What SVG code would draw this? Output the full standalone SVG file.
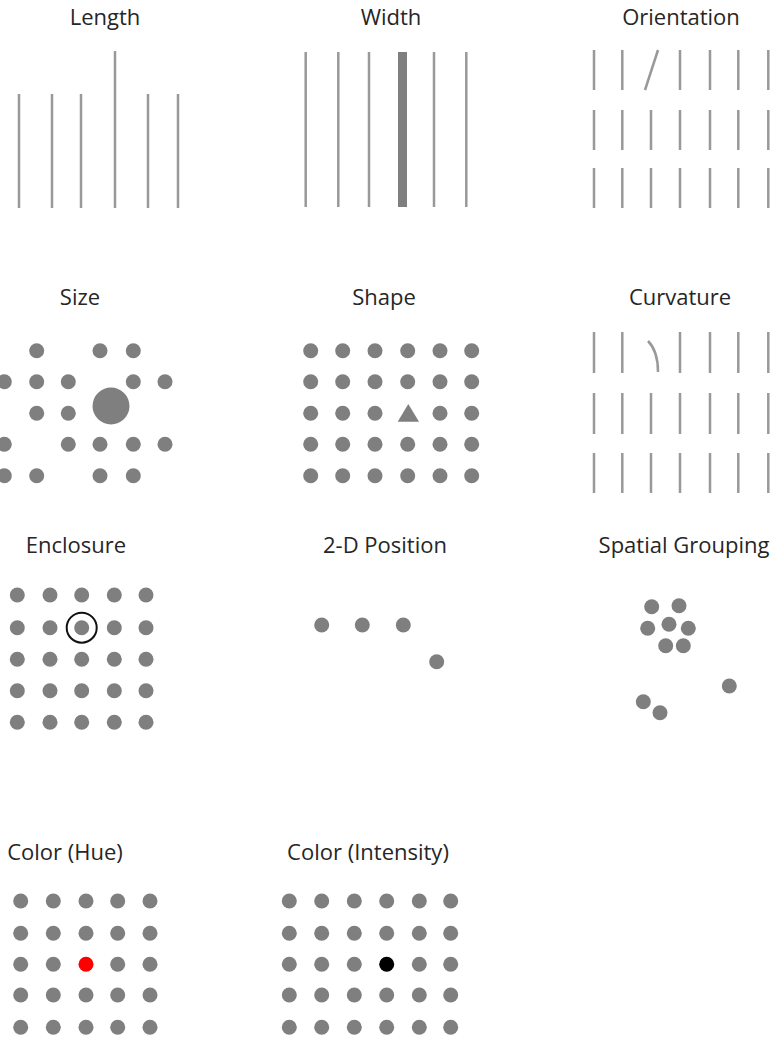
<svg xmlns="http://www.w3.org/2000/svg" width="776" height="1037" viewBox="0 0 776 1037">
<style>
.t{font-family:"Open Sans","Noto Sans",sans-serif;font-size:22px;fill:#262626;text-anchor:middle}
.ln{stroke:#999;stroke-width:2.5;fill:none;stroke-linecap:butt}
.d{fill:#7f7f7f}
</style>
<defs>
<path id="v40" d="M0,0V40" class="ln"/>
<circle id="dot" r="7.5" class="d"/>
</defs>
<rect width="776" height="1037" fill="#fff"/>

<g id="length">
<text class="t" x="105" y="25">Length</text>
<path class="ln" d="M19,94V208M52,94V208M81,94V208M115,51V208M148,94V208M178,94V208"/>
</g>

<g id="width">
<text class="t" x="391" y="25">Width</text>
<path class="ln" d="M305.7,52V207M338.3,52V207M369,52V207M434,52V207M466.3,52V207"/>
<rect x="398" y="52" width="9" height="155" fill="#7f7f7f"/>
</g>

<g id="orientation">
<text class="t" x="681" y="25">Orientation</text>
<path class="ln" d="M594,50V90M622.3,50V90M645,90L658,50M680,50V90M710,50V90M738.3,50V90M768.3,50V90"/>
<path class="ln" d="M594,110V150M622.3,110V150M651,110V150M680,110V150M710,110V150M738.3,110V150M768.3,110V150"/>
<path class="ln" d="M594,168V208M622.3,168V208M651,168V208M680,168V208M710,168V208M738.3,168V208M768.3,168V208"/>
</g>

<g id="size">
<text class="t" x="80" y="305">Size</text>
<g class="d">
<circle cx="36.7" cy="350.7" r="7.5"/><circle cx="100" cy="350.7" r="7.5"/><circle cx="133.3" cy="350.7" r="7.5"/>
<circle cx="4.3" cy="381.7" r="7.5"/><circle cx="36.7" cy="381.7" r="7.5"/><circle cx="68.3" cy="381.7" r="7.5"/><circle cx="133.3" cy="381.7" r="7.5"/><circle cx="165" cy="381.7" r="7.5"/>
<circle cx="36.7" cy="413.3" r="7.5"/><circle cx="68.3" cy="413.3" r="7.5"/><circle cx="111" cy="406" r="18.5"/>
<circle cx="4.3" cy="444.3" r="7.5"/><circle cx="68.3" cy="444.3" r="7.5"/><circle cx="100" cy="444.3" r="7.5"/><circle cx="133.3" cy="444.3" r="7.5"/><circle cx="165" cy="444.3" r="7.5"/>
<circle cx="4.3" cy="475.7" r="7.5"/><circle cx="36.7" cy="475.7" r="7.5"/><circle cx="100" cy="475.7" r="7.5"/><circle cx="133.3" cy="475.7" r="7.5"/>
</g>
</g>

<g id="shape">
<text class="t" x="384" y="305">Shape</text>
<g class="d">
<circle cx="310.7" cy="350.7" r="7.5"/><circle cx="342.7" cy="350.7" r="7.5"/><circle cx="375" cy="350.7" r="7.5"/><circle cx="407.7" cy="350.7" r="7.5"/><circle cx="440" cy="350.7" r="7.5"/><circle cx="471.7" cy="350.7" r="7.5"/>
<circle cx="310.7" cy="381.7" r="7.5"/><circle cx="342.7" cy="381.7" r="7.5"/><circle cx="375" cy="381.7" r="7.5"/><circle cx="407.7" cy="381.7" r="7.5"/><circle cx="440" cy="381.7" r="7.5"/><circle cx="471.7" cy="381.7" r="7.5"/>
<circle cx="310.7" cy="413.3" r="7.5"/><circle cx="342.7" cy="413.3" r="7.5"/><circle cx="375" cy="413.3" r="7.5"/><polygon points="408.3,404 397.7,421.7 419,421.7"/><circle cx="440" cy="413.3" r="7.5"/><circle cx="471.7" cy="413.3" r="7.5"/>
<circle cx="310.7" cy="444.3" r="7.5"/><circle cx="342.7" cy="444.3" r="7.5"/><circle cx="375" cy="444.3" r="7.5"/><circle cx="407.7" cy="444.3" r="7.5"/><circle cx="440" cy="444.3" r="7.5"/><circle cx="471.7" cy="444.3" r="7.5"/>
<circle cx="310.7" cy="475.7" r="7.5"/><circle cx="342.7" cy="475.7" r="7.5"/><circle cx="375" cy="475.7" r="7.5"/><circle cx="407.7" cy="475.7" r="7.5"/><circle cx="440" cy="475.7" r="7.5"/><circle cx="471.7" cy="475.7" r="7.5"/>
</g>
</g>

<g id="curvature">
<text class="t" x="680" y="305">Curvature</text>
<path class="ln" d="M594,332V373M622.3,332V373M648,341Q658,351 658,372M680,332V373M710,332V373M738.3,332V373M768.3,332V373"/>
<path class="ln" d="M594,393V434M622.3,393V434M651,393V434M680,393V434M710,393V434M738.3,393V434M768.3,393V434"/>
<path class="ln" d="M594,453V493M622.3,453V493M651,453V493M680,453V493M710,453V493M738.3,453V493M768.3,453V493"/>
</g>

<g id="enclosure">
<text class="t" x="76" y="553">Enclosure</text>
<g class="d">
<circle cx="17.3" cy="595" r="7.5"/><circle cx="50" cy="595" r="7.5"/><circle cx="81.7" cy="595" r="7.5"/><circle cx="114.3" cy="595" r="7.5"/><circle cx="146" cy="595" r="7.5"/>
<circle cx="17.3" cy="627.7" r="7.5"/><circle cx="50" cy="627.7" r="7.5"/><circle cx="81.7" cy="627.7" r="7.5"/><circle cx="114.3" cy="627.7" r="7.5"/><circle cx="146" cy="627.7" r="7.5"/>
<circle cx="17.3" cy="659.3" r="7.5"/><circle cx="50" cy="659.3" r="7.5"/><circle cx="81.7" cy="659.3" r="7.5"/><circle cx="114.3" cy="659.3" r="7.5"/><circle cx="146" cy="659.3" r="7.5"/>
<circle cx="17.3" cy="690.7" r="7.5"/><circle cx="50" cy="690.7" r="7.5"/><circle cx="81.7" cy="690.7" r="7.5"/><circle cx="114.3" cy="690.7" r="7.5"/><circle cx="146" cy="690.7" r="7.5"/>
<circle cx="17.3" cy="722.3" r="7.5"/><circle cx="50" cy="722.3" r="7.5"/><circle cx="81.7" cy="722.3" r="7.5"/><circle cx="114.3" cy="722.3" r="7.5"/><circle cx="146" cy="722.3" r="7.5"/>
</g>
<circle cx="81.7" cy="627.7" r="15" fill="none" stroke="#111" stroke-width="2"/>
</g>

<g id="position2d">
<text class="t" x="385" y="553">2-D Position</text>
<g class="d">
<circle cx="321.7" cy="625" r="7.5"/><circle cx="362.3" cy="625" r="7.5"/><circle cx="403.3" cy="625" r="7.5"/><circle cx="436.7" cy="661.7" r="7.5"/>
</g>
</g>

<g id="spatial-grouping">
<text class="t" x="684" y="553">Spatial Grouping</text>
<g class="d">
<circle cx="651.7" cy="606.7" r="7.5"/><circle cx="679" cy="605.7" r="7.5"/><circle cx="647.7" cy="628.3" r="7.5"/><circle cx="669" cy="624.3" r="7.5"/><circle cx="688.3" cy="628.3" r="7.5"/><circle cx="665.7" cy="645.7" r="7.5"/><circle cx="683.3" cy="645.7" r="7.5"/>
<circle cx="729.3" cy="686" r="7.5"/><circle cx="643.3" cy="701.7" r="7.5"/><circle cx="660" cy="712.7" r="7.5"/>
</g>
</g>

<g id="color-hue">
<text class="t" x="65" y="860">Color (Hue)</text>
<g class="d">
<circle cx="20.7" cy="901" r="7.5"/><circle cx="53.3" cy="901" r="7.5"/><circle cx="86" cy="901" r="7.5"/><circle cx="117.7" cy="901" r="7.5"/><circle cx="150" cy="901" r="7.5"/>
<circle cx="20.7" cy="933.3" r="7.5"/><circle cx="53.3" cy="933.3" r="7.5"/><circle cx="86" cy="933.3" r="7.5"/><circle cx="117.7" cy="933.3" r="7.5"/><circle cx="150" cy="933.3" r="7.5"/>
<circle cx="20.7" cy="964.3" r="7.5"/><circle cx="53.3" cy="964.3" r="7.5"/><circle cx="117.7" cy="964.3" r="7.5"/><circle cx="150" cy="964.3" r="7.5"/>
<circle cx="20.7" cy="995" r="7.5"/><circle cx="53.3" cy="995" r="7.5"/><circle cx="86" cy="995" r="7.5"/><circle cx="117.7" cy="995" r="7.5"/><circle cx="150" cy="995" r="7.5"/>
<circle cx="20.7" cy="1027.3" r="7.5"/><circle cx="53.3" cy="1027.3" r="7.5"/><circle cx="86" cy="1027.3" r="7.5"/><circle cx="117.7" cy="1027.3" r="7.5"/><circle cx="150" cy="1027.3" r="7.5"/>
</g>
<circle cx="86" cy="964.3" r="7.5" fill="#f00"/>
</g>

<g id="color-intensity">
<text class="t" x="368" y="860">Color (Intensity)</text>
<g class="d">
<circle cx="289.3" cy="901" r="7.5"/><circle cx="321.7" cy="901" r="7.5"/><circle cx="354.3" cy="901" r="7.5"/><circle cx="386.7" cy="901" r="7.5"/><circle cx="419.3" cy="901" r="7.5"/><circle cx="450.7" cy="901" r="7.5"/>
<circle cx="289.3" cy="933.3" r="7.5"/><circle cx="321.7" cy="933.3" r="7.5"/><circle cx="354.3" cy="933.3" r="7.5"/><circle cx="386.7" cy="933.3" r="7.5"/><circle cx="419.3" cy="933.3" r="7.5"/><circle cx="450.7" cy="933.3" r="7.5"/>
<circle cx="289.3" cy="964.3" r="7.5"/><circle cx="321.7" cy="964.3" r="7.5"/><circle cx="354.3" cy="964.3" r="7.5"/><circle cx="419.3" cy="964.3" r="7.5"/><circle cx="450.7" cy="964.3" r="7.5"/>
<circle cx="289.3" cy="995" r="7.5"/><circle cx="321.7" cy="995" r="7.5"/><circle cx="354.3" cy="995" r="7.5"/><circle cx="386.7" cy="995" r="7.5"/><circle cx="419.3" cy="995" r="7.5"/><circle cx="450.7" cy="995" r="7.5"/>
<circle cx="289.3" cy="1027.3" r="7.5"/><circle cx="321.7" cy="1027.3" r="7.5"/><circle cx="354.3" cy="1027.3" r="7.5"/><circle cx="386.7" cy="1027.3" r="7.5"/><circle cx="419.3" cy="1027.3" r="7.5"/><circle cx="450.7" cy="1027.3" r="7.5"/>
</g>
<circle cx="386.7" cy="964.3" r="7.5" fill="#000"/>
</g>
</svg>
